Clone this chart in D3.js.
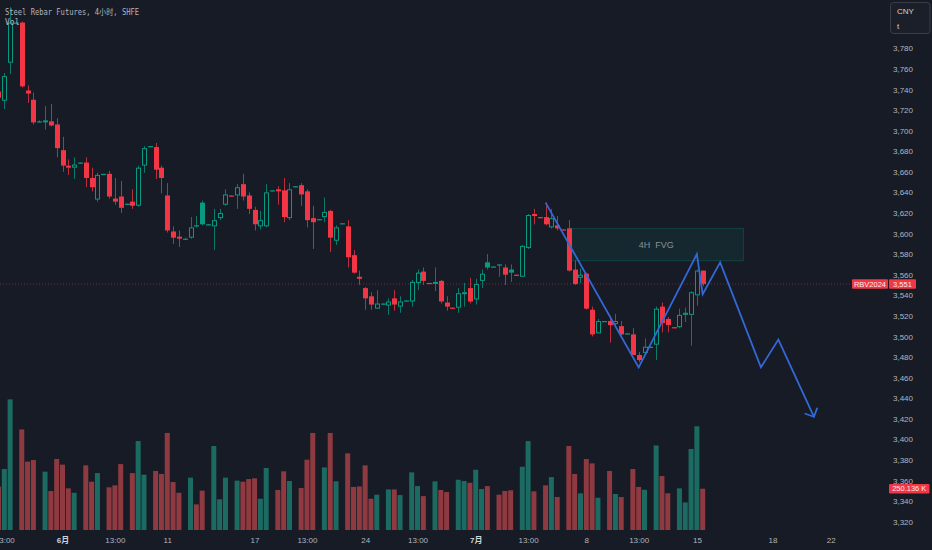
<!DOCTYPE html>
<html>
<head>
<meta charset="utf-8">
<script src="https://cdn.jsdelivr.net/npm/d3@7"></script>
<style>
  body { margin: 0; background: #171b26; }
  svg { display: block; }
</style>
</head>
<body>
<svg width="932" height="550"></svg>
<script>
// 4h bars, first one is index -1 (cut by the left edge)
var firstBar = -1;
var opens = [3738,3729,3766,3805,3805,3739,3730,3709,3709,3709,3706,3681,3666,3664,3669,3669,3654,3633,3658,3658,3634,3636,3629,3631,3627,3666,3685,3684,3664,3637,3602,3597,3595,3596,3608,3630,3609,3607,3615,3628,3637,3637,3648,3637,3623,3607,3607,3642,3643,3642,3615,3646,3647,3641,3615,3614,3616,3622,3593,3610,3607,3579,3558,3547,3539,3527,3532,3530,3537,3529,3535,3534,3552,3563,3552,3552,3554,3533,3528,3528,3542,3547,3536,3554,3572,3568,3570,3567,3565,3560,3558,3586,3619,3616,3616,3606,3608,3604,3605,3565,3557,3561,3526,3503,3515,3515,3512,3510,3503,3502,3482,3484,3490,3492,3529,3517,3509,3509,3521,3521,3540,3564];
var highs = [3742,3756,3820,3806,3806,3744,3737,3710,3724,3726,3712,3694,3672,3674,3669,3674,3664,3659,3658,3661,3654,3651,3629,3643,3666,3685,3685,3688,3666,3649,3607,3603,3596,3616,3617,3632,3609,3624,3624,3643,3637,3648,3658,3640,3626,3622,3648,3642,3646,3654,3649,3646,3649,3643,3627,3614,3635,3623,3608,3610,3613,3584,3564,3548,3543,3545,3532,3537,3545,3539,3535,3555,3565,3567,3552,3567,3555,3539,3528,3547,3552,3557,3556,3565,3580,3568,3570,3570,3570,3560,3589,3619,3624,3616,3630,3624,3617,3604,3613,3574,3566,3562,3529,3517,3515,3520,3522,3515,3503,3508,3485,3498,3490,3529,3533,3519,3509,3527,3528,3544,3565,3564];
var lows = [3728,3721,3755,3804,3742,3727,3706,3708,3701,3704,3674,3660,3657,3653,3668,3645,3641,3631,3657,3634,3628,3620,3628,3624,3626,3659,3684,3653,3639,3601,3590,3587,3595,3595,3606,3608,3608,3584,3613,3627,3636,3624,3632,3619,3603,3604,3606,3641,3628,3611,3613,3645,3627,3606,3585,3613,3611,3582,3589,3609,3567,3561,3550,3526,3526,3527,3531,3521,3525,3523,3534,3529,3545,3550,3551,3544,3532,3525,3527,3523,3529,3532,3531,3547,3565,3567,3558,3550,3553,3559,3558,3585,3609,3615,3608,3605,3603,3603,3563,3550,3552,3526,3500,3503,3514,3494,3511,3501,3502,3482,3475,3484,3489,3477,3504,3504,3508,3508,3514,3491,3530,3549];
var closes = [3732,3753,3805,3805,3743,3736,3708,3709,3710,3705,3683,3666,3664,3667,3669,3654,3645,3657,3658,3636,3631,3625,3629,3627,3664,3683,3685,3662,3654,3603,3596,3595,3595,3606,3607,3609,3609,3613,3620,3638,3637,3645,3636,3624,3609,3613,3640,3642,3641,3616,3643,3646,3638,3613,3611,3614,3621,3596,3606,3610,3577,3562,3556,3537,3531,3532,3532,3534,3531,3534,3535,3553,3562,3554,3552,3553,3534,3529,3528,3542,3543,3534,3551,3561,3567,3568,3569,3560,3562,3560,3588,3618,3617,3616,3609,3615,3605,3604,3564,3551,3560,3527,3502,3515,3515,3511,3515,3502,3503,3482,3477,3490,3490,3527,3513,3511,3509,3521,3523,3543,3564,3551];
var volumes = [262000,362000,758000,4000,587000,404000,413000,4000,347000,237000,419000,387000,252000,227000,4000,383000,290000,339000,4000,258000,269000,390000,4000,339000,521000,330000,4000,351000,334000,567000,288000,227000,4000,313000,161000,239000,9000,493000,190000,313000,4000,296000,290000,305000,309000,193000,368000,4000,243000,349000,294000,5000,254000,415000,567000,4000,371000,567000,292000,4000,451000,260000,263000,383000,193000,216000,4000,246000,246000,214000,4000,343000,265000,208000,4000,292000,243000,231000,4000,301000,294000,284000,358000,248000,265000,4000,216000,237000,241000,4000,375000,521000,235000,4000,269000,316000,203000,4000,493000,334000,224000,419000,394000,199000,4000,351000,220000,203000,4000,362000,260000,244000,4000,496000,322000,224000,4000,252000,172000,476000,605000,250136];

var priceTicks = [3320,3340,3360,3380,3400,3420,3440,3460,3480,3500,3520,3540,3560,3580,3600,3620,3640,3660,3680,3700,3720,3740,3760,3780];
var timeTickBars = [0,10,19,28,43,52,62,71,81,90,100,109,119,132,142];
var timeTickLabels = ["13:00","6月","13:00","11","17","13:00","24","13:00","7月","13:00","8","13:00","15","18","22"];

// drawings: zigzag projection and FVG box (bar index / price)
var zigzagBars = [93,109,119,120,123,130,133,139.1];
var zigzagPrices = [3630,3470,3580,3541,3572,3470,3497,3422];
var fvgBars = [97,127];
var fvgPrices = [3573.6,3605];

var lastPrice = 3551,
    lastVolume = 250136;

var svg = d3.select("svg"),
    bg = "#171b26",
    up = "#089981",
    down = "#f23645",
    axisColor = "#b2b5be",
    plotRight = 888;

var data = opens.map(function(o, k) {
  return {i: k + firstBar, o: o, h: highs[k], l: lows[k], c: closes[k], v: volumes[k],
          prev: k > 0 ? closes[k - 1] : Infinity};
});

var x = d3.scaleLinear().domain([0, 120]).range([4.3, 702.7]);
var y = d3.scaleLinear().domain([3320, 3780]).range([521.7, 48.3]);
var yv = d3.scaleLinear().domain([0, lastVolume]).range([532.7, 488.7]);

svg.append("rect").attr("width", 932).attr("height", 550).attr("fill", bg);

svg.append("defs").append("clipPath").attr("id", "plot")
  .append("rect").attr("x", 0).attr("y", 0).attr("width", plotRight).attr("height", 530);

var g = svg.append("g").attr("clip-path", "url(#plot)");

// volume
g.append("g").selectAll("rect")
  .data(data)
  .enter().append("rect")
    .attr("x", function(d) { return x(d.i) - 2.5; })
    .attr("width", 5)
    .attr("y", function(d) { return yv(d.v); })
    .attr("height", function(d) { return Math.max(0.8, yv(0) - yv(d.v)); })
    .attr("fill", function(d) {
      if (d.c > d.o) return "#1c6b62";
      if (d.c < d.o) return "#8e3a40";
      return d.c >= d.prev ? "#1c6b62" : "#8e3a40";
    });

// last price dotted line
g.append("line")
  .attr("x1", 0).attr("x2", 851)
  .attr("y1", y(lastPrice)).attr("y2", y(lastPrice))
  .attr("stroke", down).attr("stroke-opacity", 0.45)
  .attr("stroke-dasharray", "1,2");

// FVG box
g.append("rect")
  .attr("x", x(fvgBars[0]))
  .attr("width", x(fvgBars[1]) - x(fvgBars[0]))
  .attr("y", y(fvgPrices[1]))
  .attr("height", y(fvgPrices[0]) - y(fvgPrices[1]))
  .attr("fill", "rgba(8,153,129,0.10)")
  .attr("stroke", "rgba(8,153,129,0.28)");

g.append("text")
  .attr("x", (x(fvgBars[0]) + x(fvgBars[1])) / 2)
  .attr("y", (y(fvgPrices[0]) + y(fvgPrices[1])) / 2)
  .attr("dy", "0.35em")
  .attr("text-anchor", "middle")
  .style("white-space", "pre")
  .style("font", "9px 'Liberation Sans', sans-serif")
  .attr("fill", "#8b8f99")
  .text("4H  FVG");

// candles (hollow style: colour vs previous close, fill when close < open)
var candle = g.append("g").selectAll("g")
  .data(data)
  .enter().append("g")
    .attr("class", "candle");

function colorOf(d) { return d.c >= d.prev ? up : down; }

candle.append("line")
  .attr("x1", function(d) { return Math.round(x(d.i)) + 0.5; })
  .attr("x2", function(d) { return Math.round(x(d.i)) + 0.5; })
  .attr("y1", function(d) { return y(d.h); })
  .attr("y2", function(d) { return y(d.l); })
  .attr("stroke", colorOf)
  .attr("stroke-opacity", 0.75);

candle.append("rect")
  .attr("x", function(d) { return Math.round(x(d.i)) - (d.c > d.o ? 1.5 : 2); })
  .attr("width", function(d) { return d.c > d.o ? 4 : 5; })
  .attr("y", function(d) { return y(Math.max(d.o, d.c)) + (d.c > d.o ? 0.5 : 0); })
  .attr("height", function(d) {
    var h = y(Math.min(d.o, d.c)) - y(Math.max(d.o, d.c));
    return d.c > d.o ? Math.max(1, h - 1) : Math.max(1.2, h);
  })
  .attr("fill", function(d) { return d.c > d.o ? bg : colorOf(d); })
  .attr("stroke", function(d) { return d.c > d.o ? colorOf(d) : "none"; })
  .attr("stroke-width", 1);

// zigzag projection with arrow
var pts = zigzagBars.map(function(b, k) { return [x(b), y(zigzagPrices[k])]; });
g.append("path")
  .attr("d", d3.line()(pts))
  .attr("fill", "none")
  .attr("stroke", "#3468d6")
  .attr("stroke-width", 1.8)
  .attr("stroke-linejoin", "miter");

var tip = pts[pts.length - 1], prevPt = pts[pts.length - 2],
    ang = Math.atan2(prevPt[1] - tip[1], prevPt[0] - tip[0]);
[-0.8, 0.8].forEach(function(a) {
  g.append("line")
    .attr("x1", tip[0]).attr("y1", tip[1])
    .attr("x2", tip[0] + 9 * Math.cos(ang + a))
    .attr("y2", tip[1] + 9 * Math.sin(ang + a))
    .attr("stroke", "#3468d6")
    .attr("stroke-width", 1.8)
    .attr("stroke-linecap", "round");
});

// price axis
var yAxis = svg.append("g")
  .attr("transform", "translate(889,0)")
  .call(d3.axisRight(y).tickValues(priceTicks).tickSize(0).tickPadding(4).tickFormat(d3.format(",")));
yAxis.select(".domain").remove();
yAxis.selectAll("text")
  .attr("fill", axisColor)
  .style("font", "8px 'Liberation Sans', sans-serif");

// time axis
var xAxis = svg.append("g")
  .attr("transform", "translate(0,534)")
  .call(d3.axisBottom(x).tickValues(timeTickBars).tickSize(0).tickPadding(3)
    .tickFormat(function(d, k) { return timeTickLabels[k]; }));
xAxis.select(".domain").remove();
xAxis.selectAll("text")
  .attr("fill", function(d, k) { return /月/.test(timeTickLabels[k]) ? "#d1d4dc" : axisColor; })
  .style("font-weight", function(d, k) { return /月/.test(timeTickLabels[k]) ? "bold" : "normal"; })
  .style("font-family", "'Liberation Sans', 'Noto Sans CJK SC', sans-serif")
  .style("font-size", "8px");

// currency box
svg.append("rect")
  .attr("x", 890.5).attr("y", 2.5).attr("width", 39.5).attr("height", 31).attr("rx", 3)
  .attr("fill", "#1b1f2a").attr("stroke", "#3a3e49");
svg.append("text").attr("x", 897).attr("y", 14).text("CNY")
  .attr("fill", "#d1d4dc").style("font", "8px 'Liberation Sans', sans-serif");
svg.append("text").attr("x", 897).attr("y", 29).text("t")
  .attr("fill", "#d1d4dc").style("font", "8px 'Liberation Sans', sans-serif");

// last value labels
function tag(x0, w, cy, label) {
  svg.append("rect").attr("x", x0).attr("y", cy - 4.7).attr("width", w).attr("height", 9.4)
    .attr("fill", down).attr("rx", 1);
  svg.append("text").attr("x", x0 + w / 2).attr("y", cy).attr("dy", "0.35em")
    .attr("text-anchor", "middle").text(label)
    .attr("fill", "#fde8ea").style("font", "7.5px 'Liberation Sans', sans-serif");
}
tag(852, 36, y(lastPrice), "RBV2024");
tag(889, 27, y(lastPrice), d3.format(",")(lastPrice));
tag(889, 40.5, yv(lastVolume), d3.format(".3f")(lastVolume / 1000) + " K");

// legend text
svg.append("text").attr("x", 5).attr("y", 14.5)
  .text("Steel Rebar Futures, 4小时, SHFE")
  .attr("textLength", 134)
  .attr("lengthAdjust", "spacingAndGlyphs")
  .attr("fill", axisColor)
  .style("font", "8px 'DejaVu Sans Mono', 'Noto Sans CJK SC', monospace");
svg.append("text").attr("x", 5).attr("y", 24.5)
  .text("Vol")
  .attr("fill", axisColor)
  .style("font", "8px 'DejaVu Sans Mono', monospace");
</script>
</body>
</html>
